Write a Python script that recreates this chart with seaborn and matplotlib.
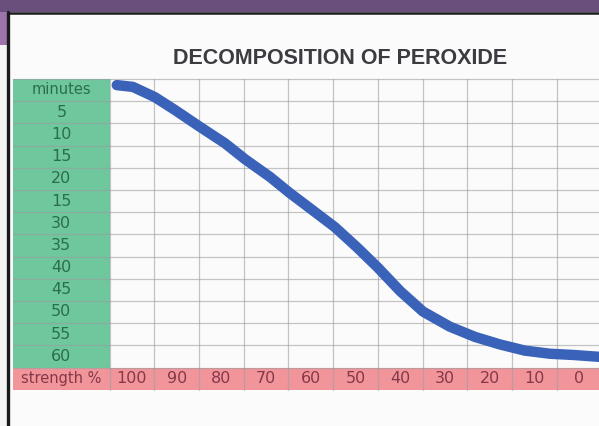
import matplotlib
matplotlib.use("Agg")
import matplotlib.pyplot as plt
from matplotlib.patches import Rectangle
import seaborn as sns
import pandas as pd

# ---- data ----
minute_labels = ["minutes", "5", "10", "15", "20", "15", "30", "35", "40", "45", "50", "55", "60"]
minute_values = [0, 5, 10, 15, 20, 25, 30, 35, 40, 45, 50, 55, 60]
strength_labels = ["100", "90", "80", "70", "60", "50", "40", "30", "20", "10", "0"]
strength_values = [100, 90, 80, 70, 60, 50, 40, 30, 20, 10, 0]

curve_strength = [103.4, 99.8, 94.9, 90.4, 84.8, 79.2, 74.7, 69.1, 64.7, 59.7, 54.6,
                  49.7, 45.0, 40.0, 34.9, 28.9, 23.3, 17.7, 12.1, 6.5, 0.9, -4.5]
curve_minutes = [-1.1, -0.7, 1.6, 4.5, 8.3, 12.0, 15.6, 19.6, 23.2, 27.0, 30.9,
                 35.4, 40.0, 45.3, 49.9, 53.3, 55.6, 57.3, 58.7, 59.4, 59.7, 60.1]

title = "DECOMPOSITION OF PEROXIDE"

sns.set_theme(style="white")
plt.rcParams['font.family'] = ['DejaVu Sans']

W, H = 599, 426
fig = plt.figure(figsize=(W / 100, H / 100), dpi=100)

# background decoration axes (pixel coordinates)
bg = fig.add_axes([0, 0, 1, 1], zorder=0)
bg.set_xlim(0, W)
bg.set_ylim(H, 0)
bg.axis("off")
bg.add_patch(Rectangle((0, 0), W, H, color="#f4f4f4", lw=0))
bg.add_patch(Rectangle((8, 12), W, H, color="#fbfbfb", lw=0))
bg.add_patch(Rectangle((0, 0), W, 12, color="#6a4f7c", lw=0))
bg.add_patch(Rectangle((0, 12), 7, 33, color="#9c74aa", lw=0))
bg.plot([8, 8], [12, H], color="#1a1a1a", lw=2.4)
bg.plot([8, W], [12.5, 12.5], color="#1a1a1a", lw=1.8)
bg.text(340, 58, title, ha="center", va="center", fontsize=15.5,
        fontweight="bold", color="#3b3b42", family=["Liberation Sans", "DejaVu Sans"])

# main chart axes: x = strength (inverted), y = minutes (inverted)
ax = fig.add_axes([0, 0, 1, 1], zorder=1)
ax.patch.set_alpha(0)
px_per_s = 4.47
px_per_m = 4.44
xlim = (100 + 132 / px_per_s, 100 - (W - 132) / px_per_s)
ylim = ((H - 90) / px_per_m, -90 / px_per_m)
ax.set_xlim(*xlim)
ax.set_ylim(*ylim)
ax.axis("off")

s_left = 100 + (132 - 13) / px_per_s  # left edge of the label column
col_w = 10
row_h = 5
top = minute_values[0] - row_h / 2
bottom = minute_values[-1] + row_h / 2
right = strength_values[-1] - col_w / 2
first = strength_values[0] + col_w / 2

# green label column
ax.add_patch(Rectangle((first, top), s_left - first, bottom - top,
                       color="#6ec79d", lw=0, zorder=1))
# pink strength row
ax.add_patch(Rectangle((right - 2, bottom), s_left - right + 2, row_h,
                       color="#f1959b", lw=0, zorder=1))

# grid lines
for k in range(len(minute_values) + 1):
    yv = top + k * row_h
    ax.plot([s_left, right - 2], [yv, yv], color="#9e9e9e", lw=0.9, alpha=0.6, zorder=2)
for k in range(len(strength_values) + 1):
    xv = first - k * col_w
    ax.plot([xv, xv], [top, bottom + row_h], color="#9e9e9e", lw=0.9, alpha=0.6, zorder=2)

# labels
for lab, m in zip(minute_labels, minute_values):
    ax.text((s_left + first) / 2, m, lab, ha="center", va="center",
            fontsize=11.5 if lab != "minutes" else 10.5, color="#2b6e4c", zorder=3)
ax.text((s_left + first) / 2, bottom + row_h / 2, "strength %", ha="center",
        va="center", fontsize=10.5, color="#853848", zorder=3)
for lab, s in zip(strength_labels, strength_values):
    ax.text(s, bottom + row_h / 2, lab, ha="center", va="center",
            fontsize=11.5, color="#853848", zorder=3)

# the curve
df = pd.DataFrame({"strength": curve_strength, "minutes": curve_minutes})
sns.lineplot(data=df, x="strength", y="minutes", sort=False, ax=ax,
             color="#3a62b9", lw=7.5, solid_capstyle="round",
             solid_joinstyle="round", zorder=4)
ax.set_xlim(*xlim)
ax.set_ylim(*ylim)
ax.axis("off")

fig.savefig("out.png", dpi=100)
